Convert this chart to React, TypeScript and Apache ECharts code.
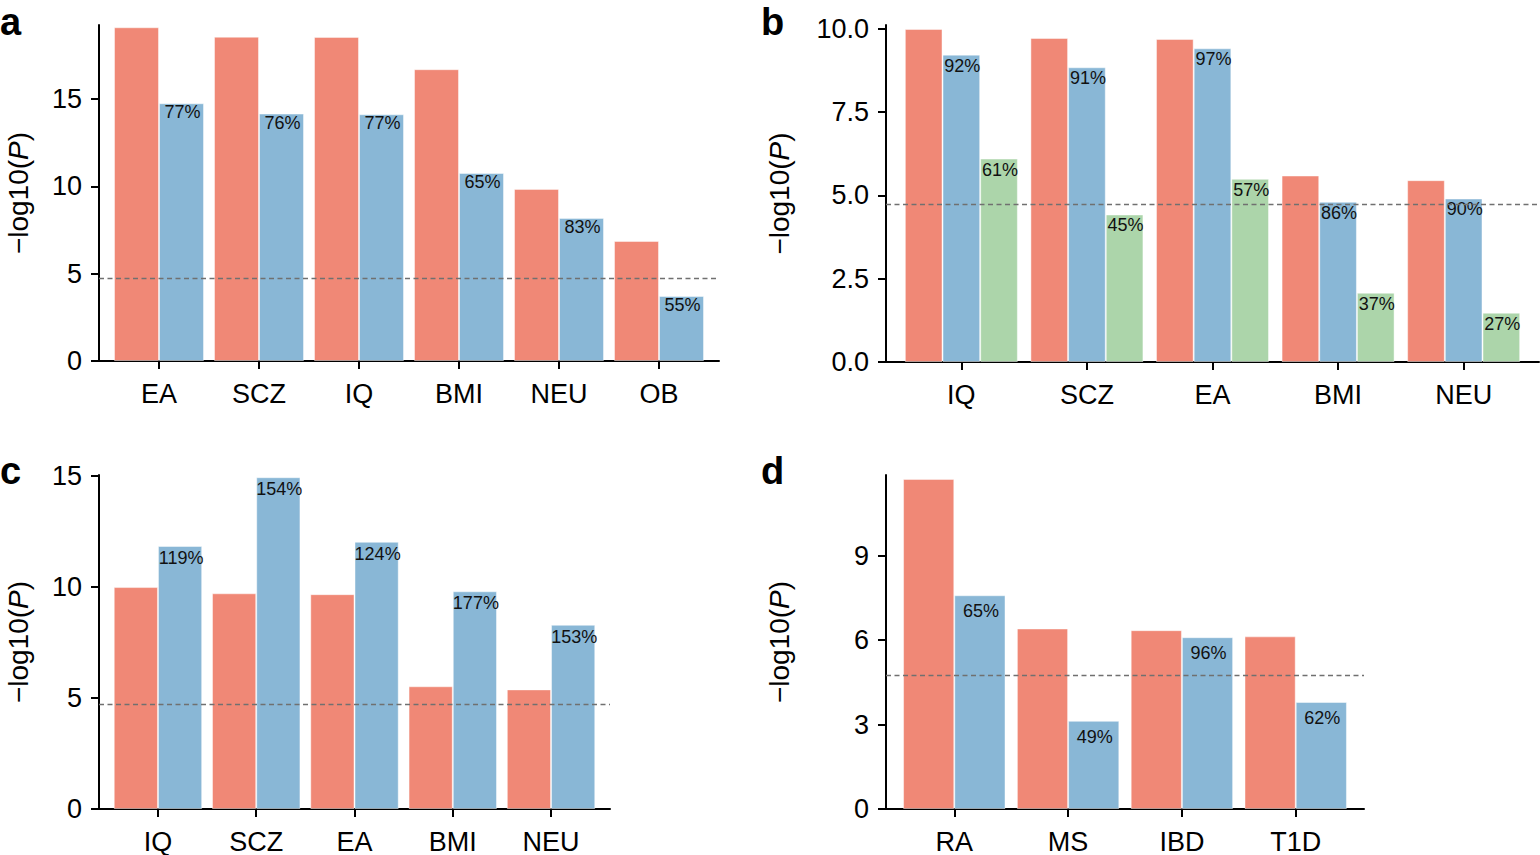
import React, { useEffect, useRef } from "react";
import * as echarts from "echarts";

const FONT = "'Liberation Sans', Arial, Helvetica, sans-serif";
const RED = "#F08876";
const BLUE = "#89B7D6";
const GREEN = "#ACD5AA";
const THRESHOLD = 4.74;

// Panel a
const catsA = ["EA", "SCZ", "IQ", "BMI", "NEU", "OB"];
const redA = [19.1, 18.56, 18.55, 16.7, 9.85, 6.87];
const blueA = [14.75, 14.16, 14.12, 10.76, 8.19, 3.72];
const blueLabelsA = ["77%", "76%", "77%", "65%", "83%", "55%"];
const ticksA = [0, 5, 10, 15];

// Panel b
const catsB = ["IQ", "SCZ", "EA", "BMI", "NEU"];
const redB = [10.0, 9.73, 9.7, 5.6, 5.46];
const blueB = [9.23, 8.85, 9.42, 4.81, 4.91];
const greenB = [6.11, 4.43, 5.5, 2.08, 1.48];
const blueLabelsB = ["92%", "91%", "97%", "86%", "90%"];
const greenLabelsB = ["61%", "45%", "57%", "37%", "27%"];
const ticksB = [0, 2.5, 5, 7.5, 10];

// Panel c
const catsC = ["IQ", "SCZ", "EA", "BMI", "NEU"];
const redC = [10.0, 9.72, 9.68, 5.53, 5.39];
const blueC = [11.85, 14.95, 12.04, 9.81, 8.3];
const blueLabelsC = ["119%", "154%", "124%", "177%", "153%"];
const ticksC = [0, 5, 10, 15];

// Panel d
const catsD = ["RA", "MS", "IBD", "T1D"];
const redD = [11.72, 6.41, 6.35, 6.13];
const blueD = [7.59, 3.13, 6.1, 3.8];
const blueLabelsD = ["65%", "49%", "96%", "62%"];
const ticksD = [0, 3, 6, 9];

type SeriesDef = { values: number[]; color: string; labels?: string[] };
type PanelDef = {
  cats: string[];
  series: SeriesDef[];
  grid: { left: number; top: number; width: number; height: number };
  ymax: number;
  ticks: number[];
  fmt?: (v: number) => string;
  labelDist: number;
  nameGap: number;
};

function buildOption(panels: PanelDef[]) {
  const grids: any[] = [];
  const xAxes: any[] = [];
  const yAxes: any[] = [];
  const series: any[] = [];
  panels.forEach((p, idx) => {
    grids.push({ ...p.grid, containLabel: false });
    const n = p.cats.length;
    const unitPx = p.grid.width / (n - 1 + 1.2);
    const barW = (0.9 / p.series.length) * unitPx;
    const idxs = p.cats.map((_, i) => i);
    xAxes.push({
      type: "value",
      gridIndex: idx,
      min: -0.6,
      max: n - 1 + 0.6,
      splitLine: { show: false },
      axisLine: { show: true, onZero: false, lineStyle: { color: "#000", width: 2 } },
      axisTick: { show: true, length: 8, lineStyle: { color: "#000", width: 2 }, customValues: idxs },
      axisLabel: {
        customValues: idxs,
        formatter: (v: number) => p.cats[Math.round(v)] ?? "",
        fontSize: 27,
        fontFamily: FONT,
        color: "#000",
        margin: 19,
      },
    });
    yAxes.push({
      type: "value",
      gridIndex: idx,
      min: 0,
      max: p.ymax,
      splitLine: { show: false },
      axisLine: { show: true, onZero: false, lineStyle: { color: "#000", width: 2 } },
      axisTick: { show: true, length: 8, lineStyle: { color: "#000", width: 2 }, customValues: p.ticks },
      axisLabel: {
        customValues: p.ticks,
        formatter: p.fmt ? p.fmt : (v: number) => String(v),
        fontSize: 27,
        fontFamily: FONT,
        color: "#000",
        margin: 17,
      },
      name: "{n|\u2212log10(}{i|P}{n|)}",
      nameLocation: "middle",
      nameGap: p.nameGap,
      nameTextStyle: {
        rich: {
          n: { fontSize: 28, fontFamily: FONT, color: "#000" },
          i: { fontSize: 28, fontFamily: FONT, fontStyle: "italic", color: "#000" },
        },
      },
    });
    p.series.forEach((s, si) => {
      series.push({
        type: "bar",
        xAxisIndex: idx,
        yAxisIndex: idx,
        barWidth: barW,
        barGap: "0%",
        data: s.values.map((v, i) => [i, v]),
        itemStyle: { color: s.color, borderColor: "rgba(255,255,255,0.45)", borderWidth: 1 },
        label: s.labels
          ? {
              show: true,
              position: "insideTop",
              distance: p.labelDist,
              offset: [1, 0],
              formatter: (params: any) => s.labels![params.dataIndex],
              fontSize: 18,
              fontFamily: FONT,
              color: "#111",
            }
          : { show: false },
        markLine:
          si === 0
            ? {
                silent: true,
                symbol: ["none", "none"],
                label: { show: false },
                lineStyle: { color: "#707070", type: [5, 3.5], width: 1.3 },
                data: [{ yAxis: THRESHOLD }],
              }
            : undefined,
        z: 2,
      });
    });
  });

  const letters = [
    { t: "a", x: 0, y: 3 },
    { t: "b", x: 761, y: 3 },
    { t: "c", x: 0, y: 452 },
    { t: "d", x: 761, y: 452 },
  ];

  return {
    animation: false,
    backgroundColor: "#fff",
    grid: grids,
    xAxis: xAxes,
    yAxis: yAxes,
    series,
    graphic: letters.map((l) => ({
      type: "text",
      x: l.x,
      y: l.y,
      style: { text: l.t, font: `bold 38px ${FONT}`, fill: "#000", textVerticalAlign: "top" },
    })),
  };
}

export default function App() {
  const ref = useRef<HTMLDivElement>(null);
  useEffect(() => {
    if (!ref.current) return;
    const chart = echarts.init(ref.current, null, { renderer: "svg" });
    const panels: PanelDef[] = [
      {
        cats: catsA,
        series: [
          { values: redA, color: RED },
          { values: blueA, color: BLUE, labels: blueLabelsA },
        ],
        grid: { left: 99, top: 25, width: 620, height: 336 },
        ymax: 19.23,
        ticks: ticksA,
        labelDist: 0,
        nameGap: 67,
      },
      {
        cats: catsB,
        series: [
          { values: redB, color: RED },
          { values: blueB, color: BLUE, labels: blueLabelsB },
          { values: greenB, color: GREEN, labels: greenLabelsB },
        ],
        grid: { left: 886, top: 25, width: 653, height: 337 },
        ymax: 10.12,
        ticks: ticksB,
        fmt: (v: number) => v.toFixed(1),
        labelDist: 2,
        nameGap: 93,
      },
      {
        cats: catsC,
        series: [
          { values: redC, color: RED },
          { values: blueC, color: BLUE, labels: blueLabelsC },
        ],
        grid: { left: 99, top: 475, width: 511, height: 337 },
        ymax: 15.05,
        ticks: ticksC,
        labelDist: 3,
        nameGap: 67,
      },
      {
        cats: catsD,
        series: [
          { values: redD, color: RED },
          { values: blueD, color: BLUE, labels: blueLabelsD },
        ],
        grid: { left: 886, top: 475, width: 478, height: 336 },
        ymax: 11.86,
        ticks: ticksD,
        labelDist: 7,
        nameGap: 93,
      },
    ];
    chart.setOption(buildOption(panels) as any);
    return () => chart.dispose();
  }, []);
  return (
    <div
      ref={ref}
      style={{ position: "absolute", left: 0, top: 0, width: 1540, height: 855, background: "#fff" }}
    />
  );
}
